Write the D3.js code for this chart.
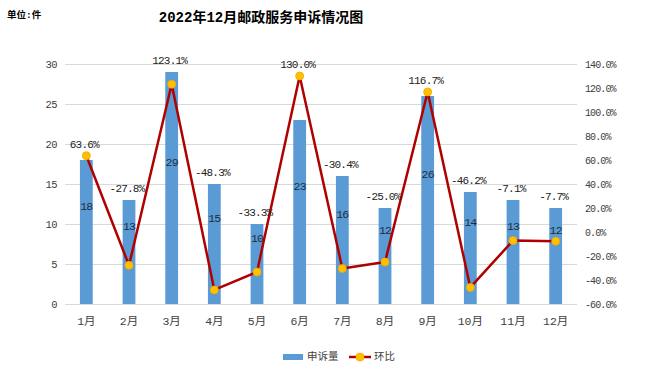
<!DOCTYPE html>
<html><head><meta charset="utf-8">
<script src="https://cdn.jsdelivr.net/npm/d3@7/dist/d3.min.js"></script>
<style>
body{margin:0;background:#fff;}
svg text{font-family:"Liberation Mono","Noto Sans CJK SC",monospace;}
</style></head>
<body><svg id="c" width="650" height="370"></svg>
<script>
const months = ["1月","2月","3月","4月","5月","6月","7月","8月","9月","10月","11月","12月"];
const complaints = [18,13,29,15,10,23,16,12,26,14,13,12];
const mom = [63.6,-27.8,123.1,-48.3,-33.3,130.0,-30.4,-25.0,116.7,-46.2,-7.1,-7.7];
const leftTicks = [0,5,10,15,20,25,30];
const rightTicks = [-60,-40,-20,0,20,40,60,80,100,120,140];
const title = "2022年12月邮政服务申诉情况图";
const unitLabel = "单位:件";
const seriesNames = ["申诉量","环比"];

const svg = d3.select("#c");
const L = 65, R = 577, T = 64, B = 304;
const x = d3.scaleBand().domain(months).range([L,R]).paddingInner(0.7).paddingOuter(0.35);
const xc = d => x(d) + x.bandwidth()/2;
const y = d3.scaleLinear().domain([0,30]).range([B,T]);
const y2 = d3.scaleLinear().domain([-60,140]).range([B,T]);

// gridlines
svg.append("g").selectAll("line").data(leftTicks).join("line")
  .attr("x1",L).attr("x2",R).attr("y1",d=>y(d)+0.5).attr("y2",d=>y(d)+0.5)
  .attr("stroke","#d9d9d9").attr("stroke-width",1);

// left axis
const ga = svg.append("g").attr("transform",`translate(${L-8},0)`)
  .call(d3.axisLeft(y).tickValues(leftTicks).tickSize(0).tickPadding(0));
ga.select(".domain").remove();
ga.selectAll("text").attr("font-size","10.5px").attr("letter-spacing","-0.6px").attr("fill","#404040")
  .attr("font-family","Liberation Mono");

// right axis
const gb = svg.append("g").attr("transform",`translate(${R+8},0)`)
  .call(d3.axisRight(y2).tickValues(rightTicks).tickSize(0).tickPadding(0).tickFormat(d=>d.toFixed(1)+"%"));
gb.select(".domain").remove();
gb.selectAll("text").attr("font-size","10px").attr("letter-spacing","-0.9px").attr("fill","#404040")
  .attr("font-family","Liberation Mono");

// bottom axis
const gx = svg.append("g").attr("transform",`translate(0,${B})`)
  .call(d3.axisBottom(x).tickSize(0).tickPadding(13));
gx.select(".domain").remove();
gx.selectAll("text").attr("font-size","11.5px").attr("fill","#404040");

// bars
svg.append("g").selectAll("rect").data(complaints).join("rect")
  .attr("x",(d,i)=>x(months[i])).attr("width",x.bandwidth())
  .attr("y",d=>y(d)).attr("height",d=>B-y(d)).attr("fill","#5B9BD5");

// bar labels
svg.append("g").selectAll("text").data(complaints).join("text")
  .attr("x",(d,i)=>xc(months[i])).attr("y",d=>y(d/2+3.2))
  .attr("text-anchor","middle").attr("dominant-baseline","central")
  .attr("font-size","11.5px").attr("letter-spacing","-0.8px").attr("fill","#1f2d3d").text(d=>d);

// line
const line = d3.line().x((d,i)=>xc(months[i])).y(d=>y2(d));
svg.append("path").datum(mom).attr("d",line).attr("fill","none")
  .attr("stroke","#B00000").attr("stroke-width",2.5).attr("stroke-linejoin","round");
svg.append("g").selectAll("circle").data(mom).join("circle")
  .attr("cx",(d,i)=>xc(months[i])).attr("cy",d=>y2(d)).attr("r",4)
  .attr("fill","#FFC000").attr("stroke","#F5A800").attr("stroke-width",0.8);

// line labels
svg.append("g").selectAll("text").data(mom).join("text")
  .attr("x",(d,i)=>xc(months[i])-2)
  .attr("y",(d,i)=>Math.min(y(complaints[i]),y2(d))-11)
  .attr("text-anchor","middle").attr("dominant-baseline","central")
  .attr("font-size","11px").attr("letter-spacing","-0.8px").attr("fill","#222")
  .text(d=>d.toFixed(1)+"%");

// title
svg.append("text").attr("x",261).attr("y",18).attr("text-anchor","middle")
  .attr("dominant-baseline","central").attr("font-size","14px").attr("font-weight","bold")
  .attr("font-family","Noto Sans CJK SC").attr("fill","#000").text(title);
svg.append("text").attr("x",7).attr("y",15).attr("dominant-baseline","central")
  .attr("font-size","9.5px").attr("font-weight","bold").attr("font-family","Noto Sans CJK SC")
  .attr("fill","#000").text(unitLabel);

// legend
const lg = svg.append("g");
lg.append("rect").attr("x",283).attr("y",354).attr("width",20).attr("height",6).attr("fill","#5B9BD5");
lg.append("text").attr("x",307).attr("y",357).attr("dominant-baseline","central")
  .attr("font-size","10.5px").attr("font-family","Noto Sans CJK SC").attr("fill","#404040").text(seriesNames[0]);
lg.append("line").attr("x1",349).attr("x2",371).attr("y1",357).attr("y2",357)
  .attr("stroke","#B00000").attr("stroke-width",2.5);
lg.append("circle").attr("cx",360).attr("cy",357).attr("r",4).attr("fill","#FFC000").attr("stroke","#F5A800").attr("stroke-width",0.8);
lg.append("text").attr("x",374).attr("y",357).attr("dominant-baseline","central")
  .attr("font-size","10.5px").attr("font-family","Noto Sans CJK SC").attr("fill","#404040").text(seriesNames[1]);
</script></body></html>
